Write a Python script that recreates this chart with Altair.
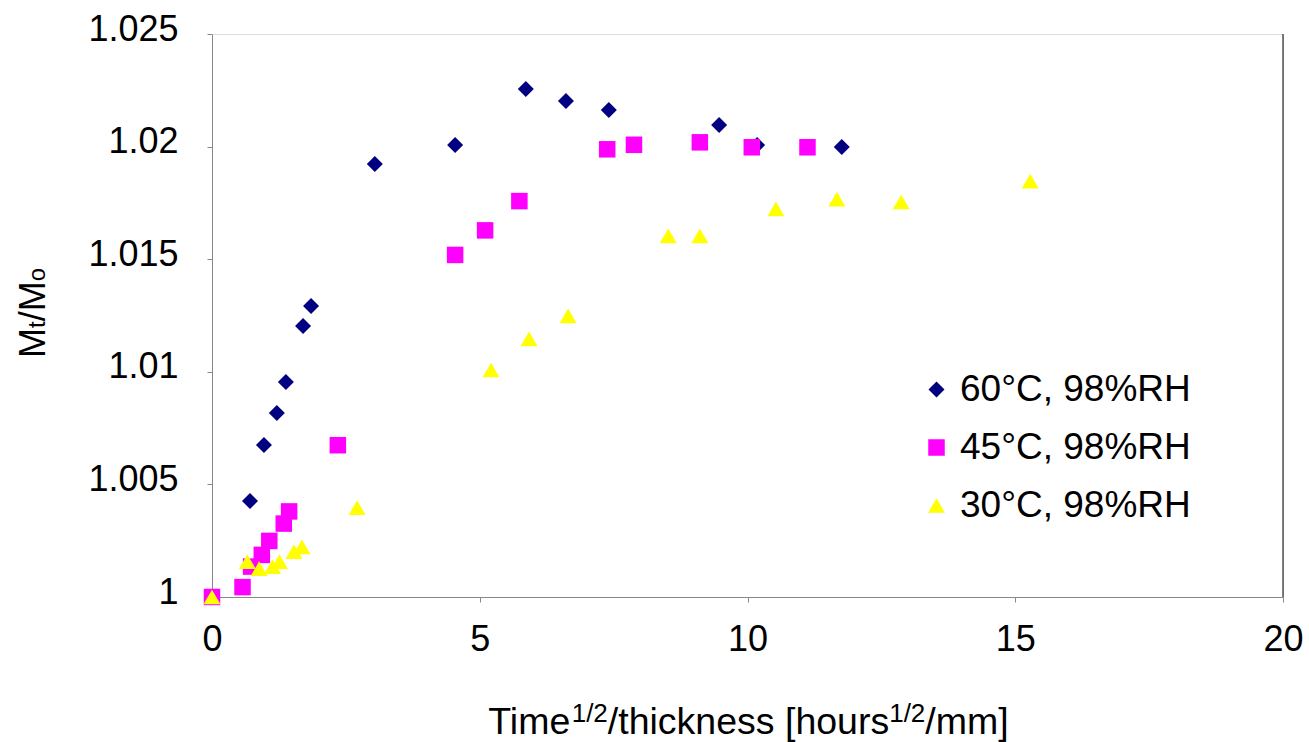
import altair as alt
import pandas as pd

# ---- data ----
x60 = [0.71, 0.97, 1.21, 1.38, 1.70, 1.85, 3.04, 4.54, 5.86, 6.61, 7.41, 9.47, 10.18, 11.76]
y60 = [1.00426, 1.00675, 1.00817, 1.00955, 1.01203, 1.01292, 1.01923, 1.02007, 1.02256,
       1.02203, 1.02163, 1.02096, 1.02007, 1.01998]
x45 = [0.0, 0.57, 0.73, 0.93, 1.07, 1.34, 1.44, 2.35, 4.54, 5.10, 5.74, 7.38, 7.88, 9.11, 10.08, 11.12]
y45 = [1.0, 1.00044, 1.00135, 1.00187, 1.00249, 1.00326, 1.00380, 1.00674, 1.01519, 1.01628,
       1.01758, 1.01988, 1.02008, 1.02019, 1.01997, 1.01997]
x30 = [0.0, 0.66, 0.88, 1.13, 1.26, 1.53, 1.68, 2.71, 5.21, 5.92, 6.65, 8.52, 9.11, 10.53, 11.67, 12.87, 15.28]
y30 = [1.0, 1.00157, 1.00126, 1.00135, 1.00157, 1.00201, 1.00223, 1.00397, 1.01008, 1.01146,
       1.01248, 1.01604, 1.01604, 1.01723, 1.01767, 1.01754, 1.01847]

series_names = ["60°C, 98%RH", "45°C, 98%RH", "30°C, 98%RH"]
series_colors = ["#000080", "#FF00FF", "#FFFF00"]
series_shapes = ["diamond", "square", "triangle-up"]
series_sizes = [256, 289, 300]

x_ticks = [0, 5, 10, 15, 20]
y_ticks = [1.0, 1.005, 1.01, 1.015, 1.02, 1.025]

rows = []
for name, xs, ys in zip(series_names, [x60, x45, x30], [y60, y45, y30]):
    for xv, yv in zip(xs, ys):
        rows.append({"x": xv, "y": yv, "series": name})
df = pd.DataFrame(rows)

FONT = "Liberation Sans"
W, H = 1071, 563

legend = alt.Legend(orient="none", legendX=706, legendY=337, title=None,
                    labelFontSize=37, labelFont=FONT, labelColor="black",
                    symbolSize=260, rowPadding=20, labelOffset=5,
                    padding=0, symbolStrokeWidth=0, labelLimit=400)

points = alt.Chart(df).mark_point(filled=True, opacity=1, strokeWidth=0).encode(
    x=alt.X("x:Q", scale=alt.Scale(domain=[0, 20], nice=False, zero=False),
            axis=alt.Axis(values=x_ticks, title=None, grid=False, labelPadding=20,
                          labelFontSize=36, labelFlush=False)),
    y=alt.Y("y:Q", scale=alt.Scale(domain=[1.0, 1.025], nice=False, zero=False),
            axis=alt.Axis(values=y_ticks, format="~g", title=None, grid=False,
                          labelPadding=29, labelOffset=-5, labelFontSize=36, labelFlush=False)),
    color=alt.Color("series:N", scale=alt.Scale(domain=series_names, range=series_colors),
                    legend=legend),
    shape=alt.Shape("series:N", scale=alt.Scale(domain=series_names, range=series_shapes),
                    legend=legend),
    size=alt.Size("series:N", scale=alt.Scale(domain=series_names, range=series_sizes),
                  legend=None),
)

right_border = alt.Chart(pd.DataFrame({"a": [0]})).mark_rule(color="black", strokeWidth=1).encode(
    x=alt.datum(20), y=alt.value(0), y2=alt.value(H)
)

# ---- Arial-metric widths for composed titles ----
WID = {"T": 611, "i": 222, "m": 833, "e": 556, "1": 556, "/": 278, "2": 556, "t": 278,
       "h": 556, "c": 500, "k": 500, "n": 556, "s": 500, " ": 278, "[": 278, "o": 556,
       "u": 556, "r": 333, "]": 278, "M": 833}


def tw(s, fs):
    return sum(WID.get(ch, 556) for ch in s) * fs / 1000.0


one = pd.DataFrame({"a": [0]})
layers = [points, right_border]

# x-axis title: Time^1/2/thickness [hours^1/2/mm]
MAIN, SUP = 37.5, 26
xpieces = [("Time", MAIN, 0), ("1/2", SUP, -12), ("/thickness [hours", MAIN, 0),
           ("1/2", SUP, -12), ("/mm]", MAIN, 0)]
total = sum(tw(s, f) for s, f, _ in xpieces)
cx = W / 2.0 + 1
px = cx - total / 2.0
base_y = 734 - 34
for s, f, dy in xpieces:
    layers.append(alt.Chart(one).mark_text(text=s, fontSize=f, font=FONT, align="left",
                                           baseline="alphabetic", color="black").encode(
        x=alt.value(px), y=alt.value(base_y + dy)))
    px += tw(s, f)

# y-axis title: Mt/Mo (rotated)
YM, YS = 36, 24
ypieces = [("M", YM), ("t", YS), ("/", YM), ("M", YM), ("o", YS)]
ytotal = sum(tw(s, f) for s, f in ypieces)
py = (313 - 34) + ytotal / 2.0
base_x = 45 - 212
for s, f in ypieces:
    layers.append(alt.Chart(one).mark_text(text=s, fontSize=f, font=FONT, align="left",
                                           baseline="alphabetic", angle=270, color="black").encode(
        x=alt.value(base_x), y=alt.value(py)))
    py -= tw(s, f)

chart = alt.layer(*layers).properties(
    width=W, height=H,
    autosize=alt.AutoSizeParams(type="none"),
    padding={"left": 212, "top": 34, "right": 26, "bottom": 145},
).configure_view(stroke="#808080", strokeWidth=1.5).configure_axis(
    labelFont=FONT, labelColor="black", domainColor="black", tickColor="black",
    tickSize=12, domainWidth=1, tickWidth=1,
).configure(background="white")

chart.save("out.html", embed_options={"renderer": "svg", "actions": False})
